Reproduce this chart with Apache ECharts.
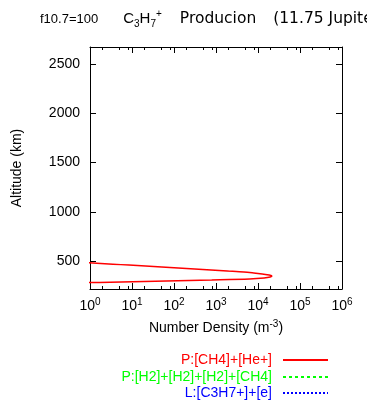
<!DOCTYPE html>
<html>
<head>
<meta charset="utf-8">
<script src="https://cdn.jsdelivr.net/npm/echarts@6/dist/echarts.min.js"></script>
<style>html,body{margin:0;padding:0;background:#fff}#c{width:367px;height:401px}</style>
</head>
<body>
<div id="c"></div>
<script>
// Altitude grid (km)
const altitude = [270,280,290,300,310,320,330,340,350,360,370,380,390,400,410,420,430,440,450,460,470,480,490,500,510];
// P:[CH4]+[He+] number density (m^-3)
const prodCH4He = [0.04,0.48,5.6,66,790,6300,14000,19500,21400,18600,12600,7900,4600,1860,760,310,126,51,21,8.5,3.5,1.45,0.59,0.24,0.1];
// other two series: below plotted range
const prodH2CH4 = [];
const lossRecomb = [];
const seriesNames = ['P:[CH4]+[He+]', 'P:[H2]+[H2]+[H2]+[CH4]', 'L:[C3H7+]+[e]'];
const seriesColors = ['#ff0000', '#00ff00', '#0000ff'];
const yTicks = [500, 1000, 1500, 2000, 2500];
const xDecades = [0, 1, 2, 3, 4, 5];
const minorMultipliers = [2, 5, 8];
const yMin = 218, yMax = 2670;
const xMin = 1, xMax = 1e6;

const FONT = 'Liberation Sans';
const WIDE = 'DejaVu Sans';
const minorPos = [];
xDecades.forEach(d => minorMultipliers.forEach(m => minorPos.push(d + Math.log10(m))));

function pairs(vals) { return vals.map((v, i) => [v, altitude[i]]); }

const chart = echarts.init(document.getElementById('c'), null, {renderer: 'canvas'});
const mkLine = () => ({show: true, onZero: false, lineStyle: {color: '#000', width: 1}});
const legendTops = [353, 370, 386];
const tBase = {color: '#000', lineHeight: 20, verticalAlign: 'middle'};
const option = {
  backgroundColor: '#fff',
  animation: false,
  textStyle: {fontFamily: FONT},
  title: {
    left: 40, top: 9, padding: 0,
    text: '{a|f10.7=100}{c1|C}{s|3}{c|H}{s|7}{p|+}{w1|Producion}{w2|(11.75 JupiterDays)}',
    textStyle: {
      fontFamily: FONT, fontSize: 14, fontWeight: 'normal', color: '#000', lineHeight: 20,
      rich: {
        a: Object.assign({fontFamily: FONT, fontSize: 13}, tBase),
        c1: Object.assign({fontFamily: FONT, fontSize: 15, padding: [0, 0, 0, 25]}, tBase),
        c: Object.assign({fontFamily: FONT, fontSize: 15}, tBase),
        s: {fontFamily: FONT, fontSize: 10, color: '#000', verticalAlign: 'bottom', lineHeight: 20, padding: [8, 0, 0, 0]},
        p: {fontFamily: FONT, fontSize: 10, color: '#000', verticalAlign: 'top', lineHeight: 20, padding: [0, 0, 8, 0]},
        w1: Object.assign({fontFamily: WIDE, fontSize: 15.5, padding: [0, 0, 0, 18]}, tBase),
        w2: Object.assign({fontFamily: WIDE, fontSize: 15.5, padding: [0, 0, 0, 17]}, tBase)
      }
    }
  },
  grid: {left: 90, right: 25, top: 47, bottom: 112, containLabel: false},
  xAxis: [
    {
      type: 'log', logBase: 10, min: xMin, max: xMax, interval: 1, position: 'bottom',
      axisLine: mkLine(), splitLine: {show: false},
      axisTick: {show: true, inside: true, length: 6, lineStyle: {color: '#000'}},
      axisLabel: {
        margin: 8, color: '#000', fontSize: 14, fontFamily: FONT,
        formatter: v => '10{sup|' + Math.round(Math.log10(v)) + '}',
        rich: {sup: {fontSize: 10, fontFamily: FONT, color: '#000', verticalAlign: 'top', padding: [0, 0, 8, 0]}}
      },
      name: 'Number Density (m{sup|-3})', nameLocation: 'middle', nameGap: 30,
      nameTextStyle: {color: '#000', fontSize: 14, fontFamily: FONT,
        rich: {sup: {fontSize: 10, fontFamily: FONT, color: '#000', verticalAlign: 'top', padding: [0, 0, 8, 0]}}}
    },
    {
      type: 'log', logBase: 10, min: xMin, max: xMax, interval: 1, position: 'top',
      axisLine: mkLine(), splitLine: {show: false},
      axisTick: {show: true, inside: true, length: 6, lineStyle: {color: '#000'}},
      axisLabel: {show: false}
    },
    {
      type: 'value', min: 0, max: 6, position: 'bottom',
      axisLine: {show: false, onZero: false}, splitLine: {show: false},
      axisTick: {show: true, inside: true, length: 3, customValues: minorPos, lineStyle: {color: '#000'}},
      axisLabel: {show: false}
    },
    {
      type: 'value', min: 0, max: 6, position: 'top',
      axisLine: {show: false, onZero: false}, splitLine: {show: false},
      axisTick: {show: true, inside: true, length: 3, customValues: minorPos, lineStyle: {color: '#000'}},
      axisLabel: {show: false}
    }
  ],
  yAxis: [
    {
      type: 'value', min: yMin, max: yMax, position: 'left',
      axisLine: mkLine(), splitLine: {show: false},
      axisTick: {show: true, inside: true, length: 6, customValues: yTicks, lineStyle: {color: '#000'}},
      axisLabel: {customValues: yTicks, margin: 10, color: '#000', fontSize: 14, fontFamily: FONT, formatter: v => String(v)},
      name: 'Altitude (km)', nameLocation: 'middle', nameGap: 66, nameRotate: 90,
      nameTextStyle: {color: '#000', fontSize: 14, fontFamily: FONT}
    },
    {
      type: 'value', min: yMin, max: yMax, position: 'right',
      axisLine: mkLine(), splitLine: {show: false},
      axisTick: {show: true, inside: true, length: 6, customValues: yTicks, lineStyle: {color: '#000'}},
      axisLabel: {show: false}
    }
  ],
  legend: seriesNames.map((n, i) => ({
    data: [{name: n, textStyle: {color: seriesColors[i]}}],
    right: 38, top: legendTops[i], align: 'right', orient: 'vertical',
    itemWidth: 45, itemHeight: 12, padding: 0, selectedMode: false,
    itemStyle: {opacity: 0},
    textStyle: {fontSize: 14, fontFamily: FONT, color: seriesColors[i], padding: [0, 6, 0, 0]}
  })),
  series: [
    {name: seriesNames[0], type: 'line', xAxisIndex: 0, yAxisIndex: 0, data: pairs(prodCH4He),
     symbol: 'none', smooth: 0.3, lineStyle: {color: seriesColors[0], width: 1.5, type: 'solid'}, itemStyle: {color: seriesColors[0]}},
    {name: seriesNames[1], type: 'line', xAxisIndex: 0, yAxisIndex: 0, data: pairs(prodH2CH4),
     symbol: 'none', lineStyle: {color: seriesColors[1], width: 1.2, type: [3, 3]}, itemStyle: {color: seriesColors[1]}},
    {name: seriesNames[2], type: 'line', xAxisIndex: 0, yAxisIndex: 0, data: pairs(lossRecomb),
     symbol: 'none', lineStyle: {color: seriesColors[2], width: 1.2, type: [2, 2]}, itemStyle: {color: seriesColors[2]}}
  ]
};
chart.setOption(option);
</script>
</body>
</html>
